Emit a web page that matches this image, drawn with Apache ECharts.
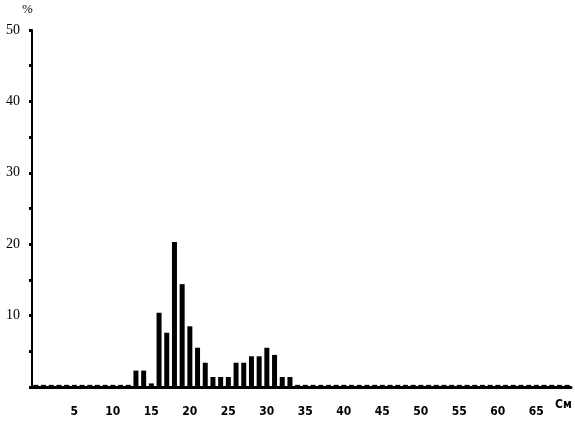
<!DOCTYPE html>
<html>
<head>
<meta charset="utf-8">
<script src="https://cdn.jsdelivr.net/npm/echarts@6/dist/echarts.min.js"></script>
<style>html,body{margin:0;padding:0;background:#fff}#c{width:575px;height:424px}</style>
</head>
<body>
<div id="c"></div>
<script>
// Size classes in cm (1 cm bins)
var categories = ['0','1','2','3','4','5','6','7','8','9','10','11','12','13','14','15','16','17','18','19',
  '20','21','22','23','24','25','26','27','28','29','30','31','32','33','34','35','36','37','38','39',
  '40','41','42','43','44','45','46','47','48','49','50','51','52','53','54','55','56','57','58','59',
  '60','61','62','63','64','65','66','67','68','69'];
// Percentage of fish in each class
var percentValues = [0.3,0.3,0.3,0.3,0.3,0.3,0.3,0.3,0.3,0.3,0.3,0.3,0.3,2.3,2.3,0.5,10.4,7.6,20.3,14.4,
  8.5,5.5,3.4,1.4,1.4,1.4,3.4,3.4,4.3,4.3,5.5,4.5,1.4,1.4,0.3,0.3,0.3,0.3,0.3,0.3,
  0.3,0.3,0.3,0.3,0.3,0.3,0.3,0.3,0.3,0.3,0.3,0.3,0.3,0.3,0.3,0.3,0.3,0.3,0.3,0.3,
  0.3,0.3,0.3,0.3,0.3,0.3,0.3,0.3,0.3,0.3];
var xTickLabels = ['5','10','15','20','25','30','35','40','45','50','55','60','65'];
var yTickLabels = [10,20,30,40,50];

var chart = echarts.init(document.getElementById('c'), null, {renderer:'canvas'});
var font = 'DejaVu Sans Condensed';
chart.setOption({
  animation:false,
  backgroundColor:'#fff',
  grid:{left:32, right:4, top:30, bottom:37},
  xAxis:{
    type:'category',
    data:categories,
    boundaryGap:true,
    axisLine:{lineStyle:{color:'#000', width:3}},
    axisTick:{alignWithLabel:true, length:7, lineStyle:{color:'#000', width:2},
      interval:function(i){return i%5===0 && i>0;}},
    axisLabel:{color:'#000', fontFamily:font, fontWeight:'bold', fontSize:12, margin:19,
      interval:function(i){return xTickLabels.indexOf(categories[i])>=0;}},
    splitLine:{show:false}
  },
  yAxis:{
    type:'value', min:0, max:50, interval:5,
    axisLine:{show:true, lineStyle:{color:'#000', width:2}},
    axisTick:{show:true, length:3, lineStyle:{color:'#000', width:3}},
    axisLabel:{color:'#000', fontFamily:'Liberation Serif', fontSize:14, margin:12,
      formatter:function(v){return yTickLabels.indexOf(v)>=0 ? String(v) : '';}},
    splitLine:{show:false}
  },
  series:[{
    type:'bar',
    data:percentValues,
    barWidth:5,
    itemStyle:{color:'#000'}
  }],
  graphic:[
    {type:'text', left:22, top:3, style:{text:'%', fill:'#000', font:'13px "Liberation Serif"'}},
    {type:'text', left:555, top:399, style:{text:'См', fill:'#000', font:'bold 12px "DejaVu Sans Condensed"'}}
  ]
});
</script>
</body>
</html>
